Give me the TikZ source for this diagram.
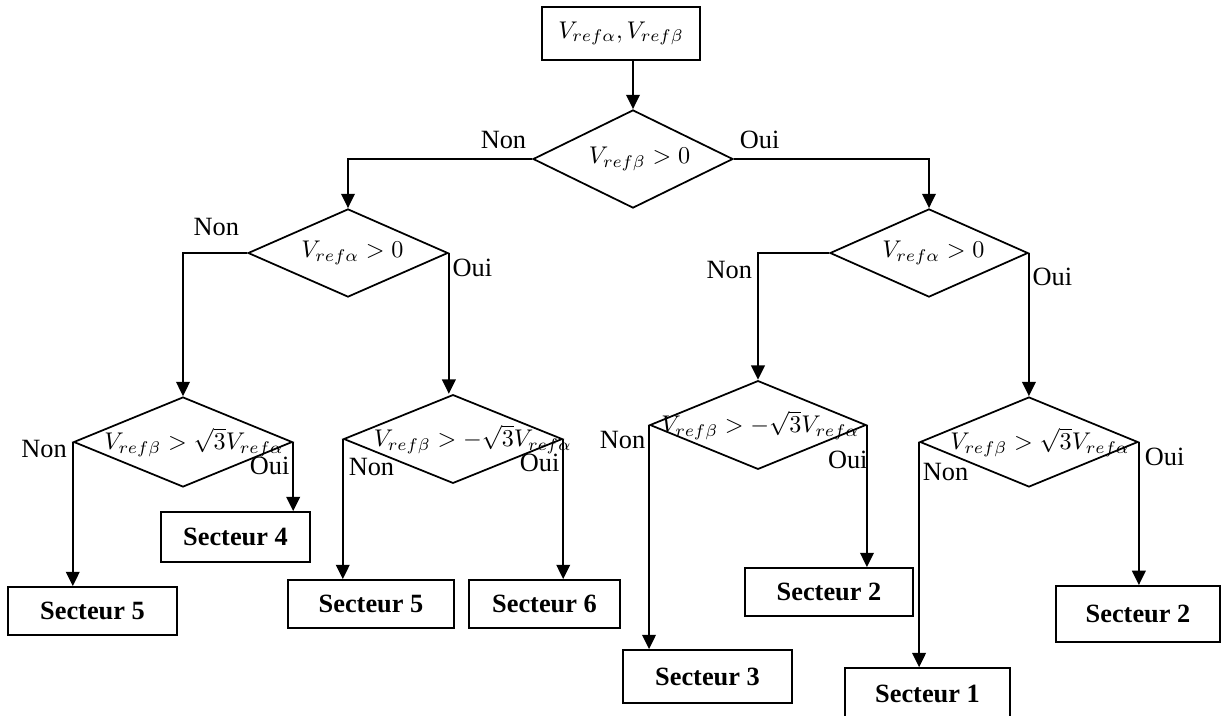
\RequirePackage{fix-cm}
\documentclass[tikz,border=0pt]{standalone}
\usepackage{amsmath,amssymb}
\usepackage{fontspec}
\setmainfont{Liberation Serif}
\usetikzlibrary{shapes.geometric,arrows.meta}

\tikzset{
  bloc/.style 2 args={draw,line width=.8pt,inner sep=0pt,minimum width=#1,minimum height=#2,font=\fontsize{12}{14}\selectfont\bfseries},
  test/.style 2 args={draw,diamond,line width=.8pt,inner sep=0pt,minimum width=#1,minimum height=#2},
  fl/.style={line width=.8pt,-{Triangle[length=6.5pt,width=6.2pt]}},
}
% texte du test, decale de #1 vers la droite
\newcommand{\cond}[2][0pt]{\makebox[0pt]{\hspace*{#1}\hspace*{#1}\fontsize{11}{13}\selectfont$#2$}}

\begin{document}
\begin{tikzpicture}[x=0.016cm,y=-0.016cm,font=\fontsize{12}{14}\selectfont]
  \useasboundingbox (0,0) rectangle (1222,716);
  % entree et tests
  \node[bloc={2.53cm}{.85cm},font=\normalfont] (ref) at (621,33.5) {\cond{V_{ref\alpha},V_{ref\beta}}};
  \node[test={3.2cm}{1.57cm}] (d1) at (633,159) {\cond[3pt]{V_{ref\beta}>0}};
  \node[test={3.2cm}{1.41cm}] (d2) at (348,253) {\cond[2pt]{V_{ref\alpha}>0}};
  \node[test={3.17cm}{1.41cm}] (d3) at (929,253) {\cond[2pt]{V_{ref\alpha}>0}};
  \node[test={3.5cm}{1.44cm}] (d4) at (183,442) {\raisebox{3pt}{\cond[5pt]{V_{ref\beta}>\sqrt{3}V_{ref\alpha}}}};
  \node[test={3.5cm}{1.42cm}] (d5) at (453,439) {\raisebox{3pt}{\cond[9pt]{V_{ref\beta}>-\sqrt{3}V_{ref\alpha}}}};
  \node[test={3.46cm}{1.42cm}] (d6) at (758,425) {\raisebox{3pt}{\cond[1pt]{V_{ref\beta}>-\sqrt{3}V_{ref\alpha}}}};
  \node[test={3.49cm}{1.44cm}] (d7) at (1029,442) {\raisebox{3pt}{\cond[5pt]{V_{ref\beta}>\sqrt{3}V_{ref\alpha}}}};
  % secteurs
  \node[bloc={2.38cm}{.8cm}] (s4a) at (235.5,537) {Secteur 4};
  \node[bloc={2.7cm}{.77cm}] (s5a) at (92.5,611) {Secteur 5};
  \node[bloc={2.66cm}{.77cm}] (s5b) at (371,604) {Secteur 5};
  \node[bloc={2.42cm}{.77cm}] (s6) at (544.5,604) {Secteur 6};
  \node[bloc={2.7cm}{.85cm}] (s3) at (707.5,676.5) {Secteur 3};
  \node[bloc={2.69cm}{.77cm}] (s2a) at (829,592) {Secteur 2};
  \node[bloc={2.64cm}{.83cm}] (s1) at (927.5,694) {Secteur 1};
  \node[bloc={2.62cm}{.9cm}] (s2b) at (1138,614) {Secteur 2};

  \draw[fl] (d1.north |- ref.south) -- (d1.north);
  \draw[fl] (d1.west) node[above left,xshift=1pt,yshift=1pt]{Non} -| (d2.north);
  \draw[fl] (d1.east) node[above right,xshift=-1pt,yshift=1pt]{Oui} -| (d3.north);
  \draw[fl] (d2.west) node[above left,yshift=4pt]{Non} -| (d4.north);
  \draw[fl] (d2.east) node[below right,xshift=-2pt,yshift=1pt]{Oui} -- (d2.east |- d5.north);
  \draw[fl] (d3.west) -| node[pos=.5,below left,xshift=1pt]{Non} (d6.north);
  \draw[fl] (d3.east) node[below right,xshift=-2pt,yshift=-3pt]{Oui} -- (d3.east |- d7.north);
  \draw[fl] (d4.west) node[left,yshift=-3pt,xshift=1pt]{Non} -- (d4.west |- s5a.north);
  \draw[fl] (d4.east) node[below left,xshift=2pt,yshift=-3pt]{Oui} -- (d4.east |- s4a.north);
  \draw[fl] (d5.west) node[below right,xshift=-1pt,yshift=-5pt]{Non} -- (d5.west |- s5b.north);
  \draw[fl] (d5.east) node[below left,xshift=2pt,yshift=-3pt]{Oui} -- (d5.east |- s6.north);
  \draw[fl] (d6.west) node[below left,xshift=2pt,yshift=1pt]{Non} -- (d6.west |- s3.north);
  \draw[fl] (d6.east) node[below left,yshift=-8pt,xshift=4pt]{Oui} -- (d6.east |- s2a.north);
  \draw[fl] (d7.west) node[below right,yshift=-6pt,xshift=-2pt]{Non} -- (d7.west |- s1.north);
  \draw[fl] (d7.east) node[below right,xshift=-1pt,yshift=1pt]{Oui} -- (d7.east |- s2b.north);
\end{tikzpicture}
\end{document}
